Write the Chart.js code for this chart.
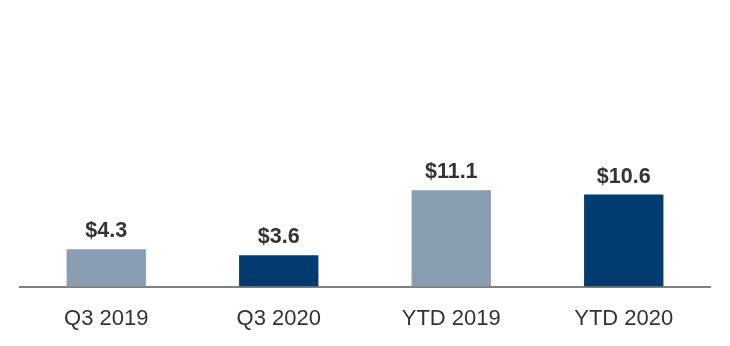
<!DOCTYPE html>
<html>
<head>
<meta charset="utf-8">
<script src="https://cdn.jsdelivr.net/npm/chart.js@4"></script>
<style>
  html, body { margin: 0; padding: 0; background: #fff; }
  #wrap { width: 730px; height: 346px; }
</style>
</head>
<body>
<div id="wrap"><canvas id="chart" width="730" height="346"></canvas></div>
<script>
const categories = ['Q3 2019', 'Q3 2020', 'YTD 2019', 'YTD 2020'];
const values = [4.3, 3.6, 11.1, 10.6];
const barColors = ['#8a9eb2', '#013b6f', '#8a9eb2', '#013b6f'];

// draws "$x.x" above each bar
const valueLabels = {
    id: 'valueLabels',
    afterDatasetsDraw(chart) {
        const ctx = chart.ctx;
        const meta = chart.getDatasetMeta(0);
        ctx.save();
        ctx.font = 'bold 21.5px "Liberation Sans", Arial, sans-serif';
        ctx.fillStyle = '#333333';
        ctx.textAlign = 'center';
        ctx.textBaseline = 'alphabetic';
        meta.data.forEach((bar, i) => {
            ctx.fillText('$' + values[i].toFixed(1), bar.x, bar.y - 12);
        });
        ctx.restore();
    }
};

new Chart(document.getElementById('chart'), {
    type: 'bar',
    data: {
        labels: categories,
        datasets: [{
            data: values,
            backgroundColor: barColors,
            borderWidth: 0,
            barPercentage: 0.92,
            categoryPercentage: 0.5
        }]
    },
    options: {
        responsive: false,
        animation: false,
        layout: { padding: { left: 20, right: 20, top: 0, bottom: -5 } },
        plugins: {
            legend: { display: false },
            tooltip: { enabled: false }
        },
        scales: {
            x: {
                grid: { display: false, drawTicks: false },
                border: { display: true, color: '#7f7f7f', width: 2 },
                ticks: {
                    color: '#333333',
                    padding: 19,
                    font: { family: '"Liberation Sans", Arial, sans-serif', size: 22 }
                }
            },
            y: {
                display: false,
                min: 0,
                max: 33
            }
        }
    },
    plugins: [valueLabels]
});
</script>
</body>
</html>
